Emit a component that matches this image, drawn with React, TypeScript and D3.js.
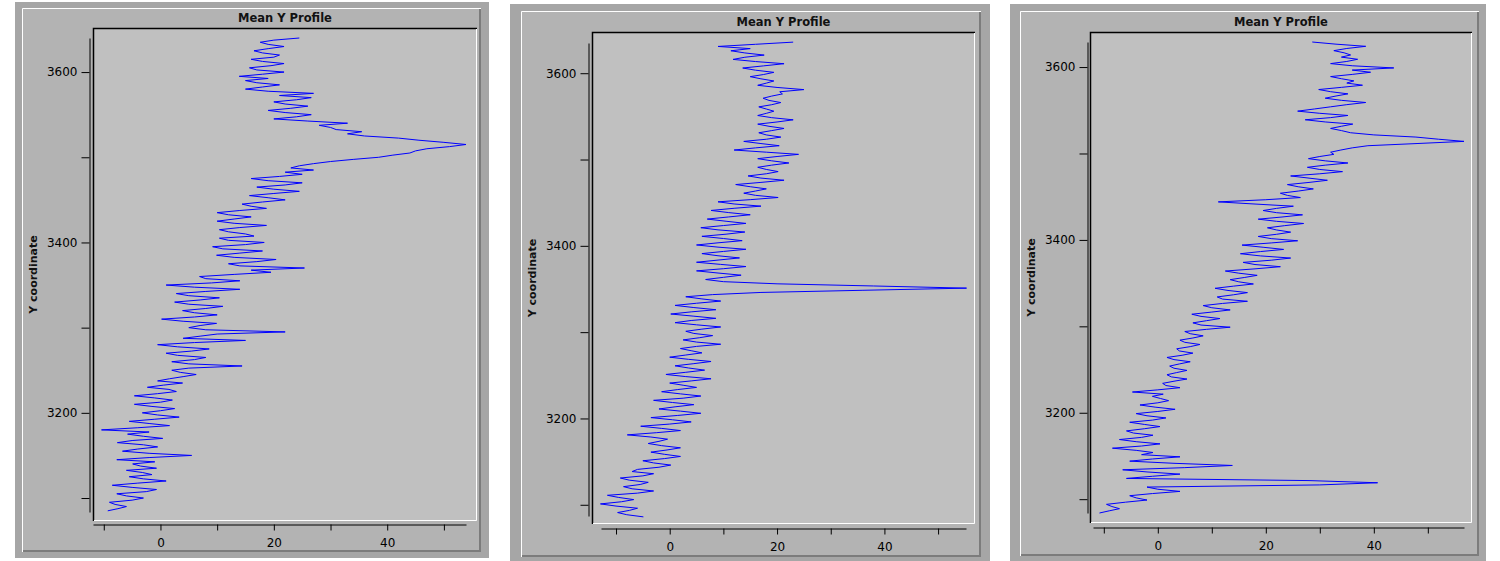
import * as d3 from "d3";
import { useEffect, useRef } from "react";

// profile rows are sampled every yStep units of Y
const yStep = 2.5;

const profile1Start = 3085;
const profile1 = [
  -9.3, -7.5, -6, -8, -9, -5, -3, -6, -7.7, -2.5, -0.7, -5, -8.5, -4, 1, -3, -5.5, -1.5, -3.2, -6,
  -0.7, -3.5, -4.9, -1, -7.7, -2, 5.5, -2, -6.7, -4, -0.5, -3, -7.6, -5, 0.4, -3, -5.8, -2, -10.4, -4,
  1.6, -2, -5.5, -1, 3.3, -0.5, -3.2, 0, 2.5, -1.5, -4.6, 0, 2.1, -1, -4.6, -0.5, 2.8, 1.5, -2.3, 0.5,
  3.9, -0.5, 1.6, 4, 6.3, 3.5, 2, 5, 14.4, 5, 2, 6, 8, 3, 1, 5.5, 8.6, 3, -0.5, 6,
  15, 4, 7, 10, 22, 8, 5, 7, 9.9, 4, 0.2, 6, 10, 6, 3.9, 8, 11, 5, 2.5, 7,
  10.4, 5, 2.8, 8, 14, 6, 1, 9, 14, 8, 6.9, 13, 19.5, 16, 25.4, 14, 12, 17, 20.4, 13,
  9.9, 14, 18, 11, 9.2, 15, 18.3, 12, 10.4, 16.5, 15, 12, 10.4, 14, 18.7, 13, 10, 13, 16, 12,
  10, 14, 18.7, 16, 14.4, 18, 22, 19, 15.7, 20, 24.5, 20, 17, 22, 25, 19, 16, 21, 25, 22,
  27, 23, 24.5, 27, 30, 34, 38.5, 41, 44, 45, 47, 51, 53.9, 50, 45.6, 42, 36, 33, 35.5, 31,
  30, 28, 33, 26, 20, 24, 26.6, 22, 19, 23, 26, 22, 20, 24, 26.6, 21, 27, 19, 15, 18,
  21, 17, 15, 19, 13.9, 18, 21.8, 17, 15.7, 19.5, 21.8, 18, 16, 20, 21, 18, 16.5, 19, 21.8, 19,
  17.6, 20, 24.5,
];

const profile2Start = 3086;
const profile2 = [
  -4.9, -8, -9.7, -7.5, -6, -10, -12.9, -9, -6.7, -9.5, -11.6, -6, -3, -7, -8.6, -5.5, -4, -7.5, -9.2, -5,
  -3, -7, -6, -2, 0.2, -3, -5, -1, 2, -1, -3.5, -0.5, 2, -1.5, -4, -2, -0.4, -3.5, -7.9, -2.5,
  2, -1.5, -5.4, 0, 4, 0.5, -3.5, 1.5, 5.8, 2, -2, 1, 4.5, 0.5, -3, 2.5, 5.8, 2, -1.5, 1.5,
  5, 2.5, 0, 4, 7.7, 3, -0.7, 3, 6.5, 3.5, 1, 4.5, 7.7, 3.5, 0, 3, 6, 4, 2, 5,
  9.5, 5, 2.5, 5.5, 8, 4.5, 3, 6, 9.5, 5, 1, 4, 8.6, 4.5, 0.2, 4, 8.6, 4.5, 1, 5,
  9.5, 6, 3, 8, 17, 36, 55.3, 38, 20, 10, 6.7, 10, 13.3, 9, 5, 10, 14.2, 9.5, 5, 9,
  13, 9, 6, 10, 14.2, 9, 5, 9, 13.5, 10, 6, 10.5, 14, 9, 5.8, 10, 14.2, 10.5, 7, 11,
  15, 11, 7.7, 12, 17, 12, 9, 15, 20.2, 16, 13.8, 16, 18, 15, 12.3, 17, 21.3, 17, 14.6, 18,
  20.2, 18, 16.4, 19, 22.2, 19, 16.4, 20, 24, 18, 12, 16, 20.4, 17, 13.8, 18, 20.7, 18, 16.6, 19,
  21.3, 18.5, 16.4, 20, 23, 19, 16.4, 18, 19.4, 18, 16.6, 19, 20.7, 18.5, 17.4, 19, 21, 20.5, 25, 20,
  16.4, 18, 19.4, 17, 15, 17.5, 19.4, 16, 13.6, 17.5, 21.3, 16, 11.8, 14, 17.6, 14, 11.4, 15, 9, 16,
  23,
];

const profile3Start = 3084;
const profile3 = [
  -10.8, -9, -7.1, -8.5, -9.5, -6, -2, -4, -5.2, -1, 4.1, 0, -2, 30, 40.7, 28, -5.8, -1, 4.1, -2,
  -6.5, 5, 13.8, 3, -5.2, -1, 4.1, -3, -0.9, -4, -8.4, -3, 0.4, -4, -7.1, -3, -0.9, -4.5, -5.8, -2.5,
  0.4, -2.5, -5.2, -1, 1.5, -2, -4, 0, 3.2, -0.5, -3.3, 0, 2, 0.5, -1, 1, -4.7, 0, 4.1, 1.5,
  0.9, 3, 5.4, 2.5, 1.7, 3.5, 5.4, 3, 2.2, 4, 6, 3, 1.7, 4.5, 6.5, 4, 3.5, 6, 7.8, 5,
  4.1, 6.5, 8.4, 6, 5, 9, 13.4, 8, 6.5, 9, 11.5, 8, 6.3, 10, 13.4, 10, 8.4, 12, 16.6, 12,
  11, 14, 16.6, 13, 10.6, 14, 17.7, 15, 13.4, 16, 18.4, 15, 12.5, 18, 22.7, 18, 15.8, 21, 24.6, 19,
  15.3, 19, 23.3, 19.5, 15.6, 21, 25.9, 21, 18.6, 22, 24.6, 22, 20.3, 23.5, 27, 22, 18.6, 23, 26.8, 22,
  19.5, 22, 25.1, 18, 11.2, 20, 26.4, 24, 22.7, 26, 28.8, 26, 24, 28, 31.4, 28, 24.6, 30, 34.2, 30,
  27.7, 31, 35.2, 31, 27.9, 30, 32.6, 32, 33.9, 36, 38.9, 48, 56.7, 52, 47.8, 40, 35.7, 34, 32, 34,
  36.1, 31, 27.3, 32, 35.2, 30, 25.9, 29, 32, 35, 38.5, 34, 31, 33, 35.2, 32, 29.8, 34, 37.9, 35,
  36.3, 34, 32, 36, 39.4, 36, 43.7, 36, 32, 35, 37, 34, 35.7, 34.5, 32.6, 35, 38.5, 33, 28.6,
];

const xTicks = [-10, 0, 10, 20, 30, 40, 50];
const xLabels = [0, 20, 40];
const yTicks = [3100, 3200, 3300, 3400, 3500, 3600];
const yLabels = [3200, 3400, 3600];
const title = "Mean Y Profile";
const yTitle = "Y coordinate";

// axis extents (data range of each panel)
const xDomains: [number, number][] = [[-11.9, 53.9], [-12.8, 55.2], [-12, 56.7]];
const yDomains: [number, number][] = [[3083.6, 3640], [3087, 3635], [3084, 3629]];

type Box = [number, number, number, number];
type Layout = {
  outer: Box;
  inner: Box;
  plot: Box;
  xAxis: { y: number; x0: number; x1: number };
  yAxis: { x: number; y0: number; y1: number };
  yTitleX: number;
};

const layouts: Layout[] = [
  {
    outer: [15, 2, 489, 558],
    inner: [22, 8, 481, 552],
    plot: [93, 28, 477, 521],
    xAxis: { y: 524, x0: 93, x1: 466 },
    yAxis: { x: 89, y0: 38, y1: 512 },
    yTitleX: 37,
  },
  {
    outer: [510, 4, 990, 561],
    inner: [521, 11, 981, 557],
    plot: [592, 32, 975, 524],
    xAxis: { y: 528, x0: 601, x1: 966 },
    yAxis: { x: 588, y0: 43, y1: 516 },
    yTitleX: 536,
  },
  {
    outer: [1010, 4, 1486, 561],
    inner: [1020, 11, 1479, 556],
    plot: [1090, 32, 1472, 523],
    xAxis: { y: 527, x0: 1093, x1: 1464 },
    yAxis: { x: 1087, y0: 42, y1: 513 },
    yTitleX: 1035,
  },
];

const profiles = [
  { start: profile1Start, values: profile1 },
  { start: profile2Start, values: profile2 },
  { start: profile3Start, values: profile3 },
];

const FONT = "DejaVu Sans";

const drawPanel = (
  svg: d3.Selection<SVGSVGElement, unknown, null, undefined>,
  lay: Layout,
  start: number,
  values: number[],
  xDomain: [number, number],
  yDomain: [number, number]
) => {
  const g = svg.append("g");
  const [ox0, oy0, ox1, oy1] = lay.outer;
  const [ix0, iy0, ix1, iy1] = lay.inner;
  const [px0, py0, px1, py1] = lay.plot;

  // frame
  g.append("rect")
    .attr("x", ox0).attr("y", oy0)
    .attr("width", ox1 - ox0).attr("height", oy1 - oy0)
    .attr("fill", "#a6a6a6");
  g.append("rect")
    .attr("x", ix0).attr("y", iy0)
    .attr("width", ix1 - ix0).attr("height", iy1 - iy0)
    .attr("fill", "#b3b3b3");
  g.append("path")
    .attr("d", `M${ix0 + 0.5},${iy1} V${iy0 + 0.5} H${ix1}`)
    .attr("fill", "none").attr("stroke", "#ffffff");
  g.append("path")
    .attr("d", `M${ix0 + 1},${iy1 - 1} H${ix1 - 1} V${iy0 + 1}`)
    .attr("fill", "none").attr("stroke", "#7c7c7c").attr("stroke-width", 2);

  // plot area
  g.append("rect")
    .attr("x", px0).attr("y", py0)
    .attr("width", px1 - px0).attr("height", py1 - py0)
    .attr("fill", "#c0c0c0");
  g.append("path")
    .attr("d", `M${px0 + 0.5},${py1} V${py0 + 0.5} H${px1}`)
    .attr("fill", "none").attr("stroke", "#000").attr("stroke-width", 1.5);
  g.append("path")
    .attr("d", `M${px0 + 1},${py1 - 0.5} H${px1 - 0.5} V${py0 + 1}`)
    .attr("fill", "none").attr("stroke", "#ffffff");

  const x = d3.scaleLinear().domain(xDomain).range([lay.xAxis.x0, lay.xAxis.x1]);
  const y = d3.scaleLinear().domain(yDomain).range([lay.yAxis.y1, lay.yAxis.y0]);

  const line = d3
    .line<number>()
    .x((d) => x(d))
    .y((_, i) => y(start + i * yStep));

  g.append("path")
    .attr("d", line(values) ?? "")
    .attr("fill", "none")
    .attr("stroke", "#0000ff")
    .attr("stroke-width", 1);

  const xAxis = g
    .append("g")
    .attr("transform", `translate(0,${lay.xAxis.y + 0.5})`)
    .call(
      d3
        .axisBottom(x)
        .tickValues(xTicks)
        .tickSize(6)
        .tickSizeOuter(0)
        .tickPadding(7.5)
        .tickFormat((d) => (xLabels.includes(+d) ? String(d) : ""))
    );
  xAxis.attr("font-family", FONT).attr("font-size", 12);
  xAxis.selectAll("text").attr("fill", "#000");

  const yAxis = g
    .append("g")
    .attr("transform", `translate(${lay.yAxis.x + 0.5},0)`)
    .call(
      d3
        .axisLeft(y)
        .tickValues(yTicks)
        .tickSize(8)
        .tickSizeOuter(0)
        .tickPadding(4)
        .tickFormat((d) => (yLabels.includes(+d) ? String(d) : ""))
    );
  yAxis.attr("font-family", FONT).attr("font-size", 12);
  yAxis.selectAll("text").attr("fill", "#000");

  g.append("text")
    .attr("x", (px0 + px1) / 2)
    .attr("y", py0 - 6)
    .attr("text-anchor", "middle")
    .attr("font-family", FONT)
    .attr("font-size", 11.5)
    .attr("font-weight", "bold")
    .attr("fill", "#111")
    .text(title);

  g.append("text")
    .attr("transform", `translate(${lay.yTitleX},${(py0 + py1) / 2}) rotate(-90)`)
    .attr("text-anchor", "middle")
    .attr("font-family", FONT)
    .attr("font-size", 11)
    .attr("font-weight", "bold")
    .attr("fill", "#111")
    .text(yTitle);
};

const App = () => {
  const ref = useRef<SVGSVGElement | null>(null);

  useEffect(() => {
    if (!ref.current) return;
    const svg = d3.select(ref.current);
    svg.selectAll("*").remove();
    layouts.forEach((lay, i) => {
      drawPanel(svg, lay, profiles[i].start, profiles[i].values, xDomains[i], yDomains[i]);
    });
  }, []);

  return (
    <svg
      ref={ref}
      width={1500}
      height={561}
      style={{ position: "absolute", left: 0, top: 0, background: "#ffffff" }}
    />
  );
};

export default App;
